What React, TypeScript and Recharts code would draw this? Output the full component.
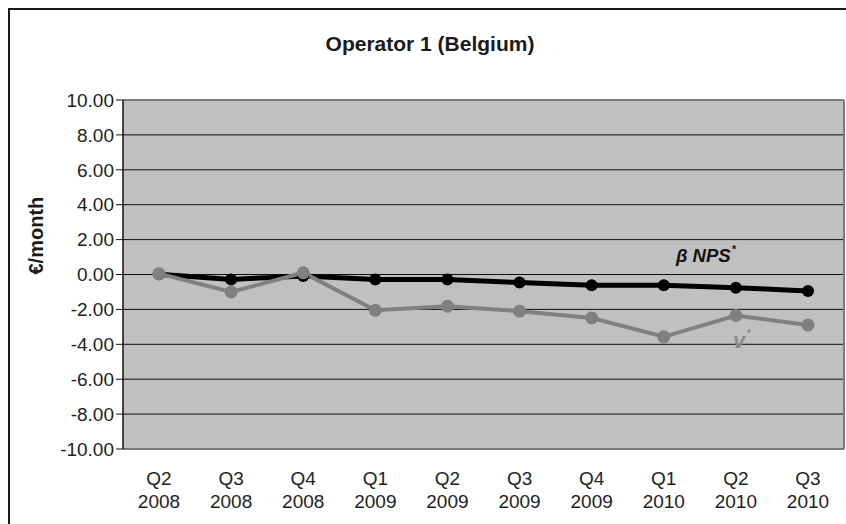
import {
  LineChart,
  Line,
  XAxis,
  YAxis,
  CartesianGrid,
  ReferenceLine,
  ReferenceDot,
} from "recharts"

const quarters = [
  "Q2 2008",
  "Q3 2008",
  "Q4 2008",
  "Q1 2009",
  "Q2 2009",
  "Q3 2009",
  "Q4 2009",
  "Q1 2010",
  "Q2 2010",
  "Q3 2010",
]
const betaNps = [0.02, -0.28, -0.08, -0.29, -0.29, -0.46, -0.61, -0.61, -0.76, -0.94]
const vStar = [0.05, -1.0, 0.1, -2.05, -1.82, -2.1, -2.49, -3.57, -2.35, -2.9]
const yTicks = [-10, -8, -6, -4, -2, 0, 2, 4, 6, 8, 10]

const data = quarters.map((q, i) => ({ q, nps: betaNps[i], v: vStar[i] }))

const FONT = "'Liberation Sans', Arial, sans-serif"

function QuarterTick(props: any) {
  const { x, y, payload } = props
  const [qq, yr] = String(payload.value).split(" ")
  return (
    <text x={x} y={y} textAnchor="middle" fill="#222" fontSize={19} fontFamily={FONT}>
      <tspan x={x} dy={34}>{qq}</tspan>
      <tspan x={x} dy={23}>{yr}</tspan>
    </text>
  )
}

function NpsLabel(props: any) {
  const { viewBox } = props
  return (
    <text x={viewBox.x} y={viewBox.y} textAnchor="end" fill="#111" fontSize={18.5}
      fontWeight="bold" fontStyle="italic" fontFamily={FONT}>
      β NPS
      <tspan fontSize={11} dx={1} dy={-9}>*</tspan>
    </text>
  )
}

function VLabel(props: any) {
  const { viewBox } = props
  return (
    <text x={viewBox.x - 3} y={viewBox.y} textAnchor="start" fill="#8c8c8c" fontSize={22}
      fontWeight="bold" fontStyle="italic" fontFamily={FONT}>
      v
      <tspan fontSize={10} dx={1} dy={-11}>*</tspan>
    </text>
  )
}

export default function App() {
  return (
    <div style={{ position: "fixed", left: 8, top: 8, width: 838, height: 516, overflow: "hidden", background: "#fff" }}>
      <div
        style={{
          position: "absolute",
          left: 0,
          width: 844,
          textAlign: "center",
          top: 25,
          lineHeight: "22px",
          fontFamily: FONT,
          fontWeight: "bold",
          fontSize: 21,
          color: "#1a1a1a",
        }}
      >
        Operator 1 (Belgium)
      </div>
      <LineChart
        width={838}
        height={516}
        data={data}
        margin={{ top: 92, right: 0, bottom: 15, left: 0 }}
      >
        <CartesianGrid
          vertical={false}
          stroke="#111"
          strokeWidth={1}
          fill="#c0c0c0"
          fillOpacity={1}
        />
        <ReferenceLine y={10} stroke="#7a7a7a" strokeWidth={2} />
        <ReferenceLine y={-10} stroke="#7a7a7a" strokeWidth={2} />
        <XAxis
          dataKey="q"
          interval={0}
          axisLine={false}
          tickLine={false}
          tickSize={0}
          height={60}
          padding={{ left: 36, right: 36 }}
          tick={<QuarterTick />}
        />
        <YAxis
          domain={[-10, 10]}
          ticks={yTicks}
          width={115}
          interval={0}
          tickSize={7}
          tickMargin={2}
          axisLine={{ stroke: "#111", strokeWidth: 1.5 }}
          tickLine={{ stroke: "#111" }}
          tick={{ fill: "#222", fontSize: 19, fontFamily: FONT }}
          tickFormatter={(v: number) => v.toFixed(2)}
          label={{
            value: "€/month",
            angle: -90,
            position: "insideLeft",
            dx: 23,
            fill: "#1a1a1a",
            fontSize: 20,
            fontWeight: "bold",
            fontFamily: FONT,
          }}
        />
        <YAxis
          yAxisId="edge"
          orientation="right"
          domain={[-10, 10]}
          width={2}
          tick={false}
          tickLine={false}
          axisLine={{ stroke: "#7a7a7a", strokeWidth: 2 }}
        />
        <Line
          dataKey="nps"
          stroke="#000"
          strokeWidth={5}
          dot={{ r: 6, fill: "#000", stroke: "none" }}
          isAnimationActive={false}
        />
        <Line
          dataKey="v"
          stroke="#808080"
          strokeWidth={4}
          dot={{ r: 6.5, fill: "#808080", stroke: "none" }}
          isAnimationActive={false}
        />
        <ReferenceDot x="Q2 2010" y={0.7} r={0} fill="none" stroke="none" label={<NpsLabel />} />
        <ReferenceDot x="Q2 2010" y={-4.2} r={0} fill="none" stroke="none" label={<VLabel />} />
      </LineChart>
      <div
        style={{
          position: "absolute",
          left: 0,
          top: 0,
          width: 838,
          height: 516,
          borderLeft: "2px solid #1a1a1a",
          borderTop: "2px solid #1a1a1a",
          boxSizing: "border-box",
          pointerEvents: "none",
        }}
      />
    </div>
  )
}
